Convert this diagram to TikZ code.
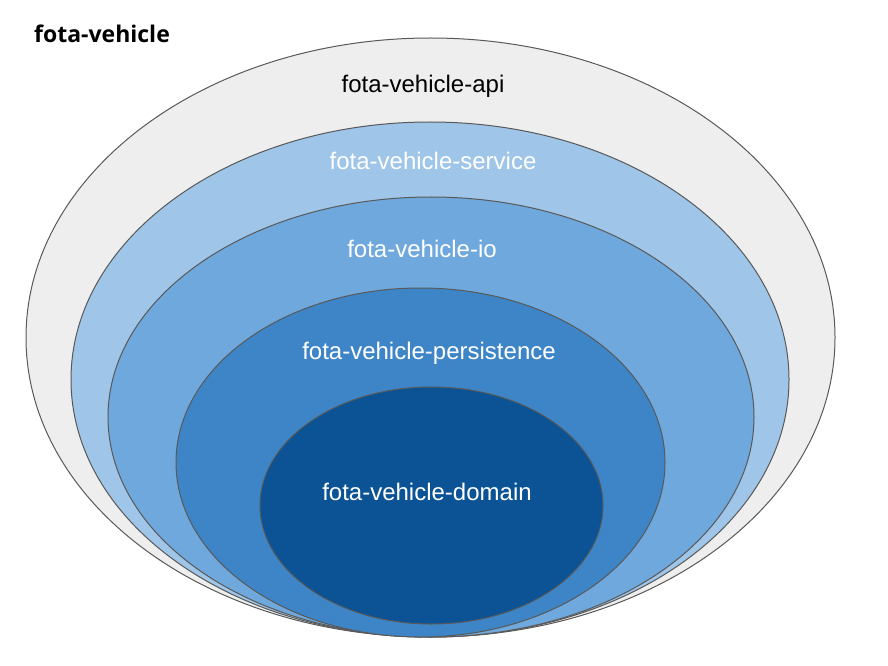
\documentclass[tikz,border=0pt]{standalone}
\usepackage{fontspec}
\setmainfont{Liberation Sans}
\newfontfamily\titlefont{Open Sans}

\definecolor{apigray}{HTML}{EEEEEE}
\definecolor{serviceblue}{HTML}{9FC5E8}
\definecolor{ioblue}{HTML}{6FA8DC}
\definecolor{persistblue}{HTML}{3D85C6}
\definecolor{domainblue}{HTML}{0B5394}
\definecolor{rimgray}{HTML}{595959}

\tikzset{
  layer/.style={draw=rimgray, line width=1pt},
  layertext/.style={anchor=base, inner sep=0pt, font=\fontsize{24}{28}\selectfont}
}

\begin{document}
\begin{tikzpicture}[x=1pt,y=1pt]
  \useasboundingbox (0,0) rectangle (888,665);

  % layers, outside in
  \filldraw[layer, fill=apigray] (430.5,327.5) ellipse [x radius=404.5, y radius=299.5];
  \filldraw[layer, fill=serviceblue] (430,285.5) ellipse [x radius=359, y radius=257.5];
  \filldraw[layer, fill=ioblue] (431,248) ellipse [x radius=323, y radius=220];
  \filldraw[layer, fill=persistblue] (420.5,202.5) ellipse [x radius=244.5, y radius=174.5];
  \filldraw[layer, fill=domainblue] (431.5,159.5) ellipse [x radius=171.5, y radius=118.5];

  % labels
  \node[anchor=base west, inner sep=0pt, font=\titlefont\bfseries\fontsize{23}{27}\selectfont] (title) at (34,622) {fota-vehicle};
  \node[layertext] (api) at (423,572.5) {fota-vehicle-api};
  \node[layertext, text=white] (service) at (433,495.5) {fota-vehicle-service};
  \node[layertext, text=white] (io) at (422,407.5) {fota-vehicle-io};
  \node[layertext, text=white] (persistence) at (429,305.5) {fota-vehicle-persistence};
  \node[layertext, text=white] (domain) at (427,164.5) {fota-vehicle-domain};
\end{tikzpicture}
\end{document}
